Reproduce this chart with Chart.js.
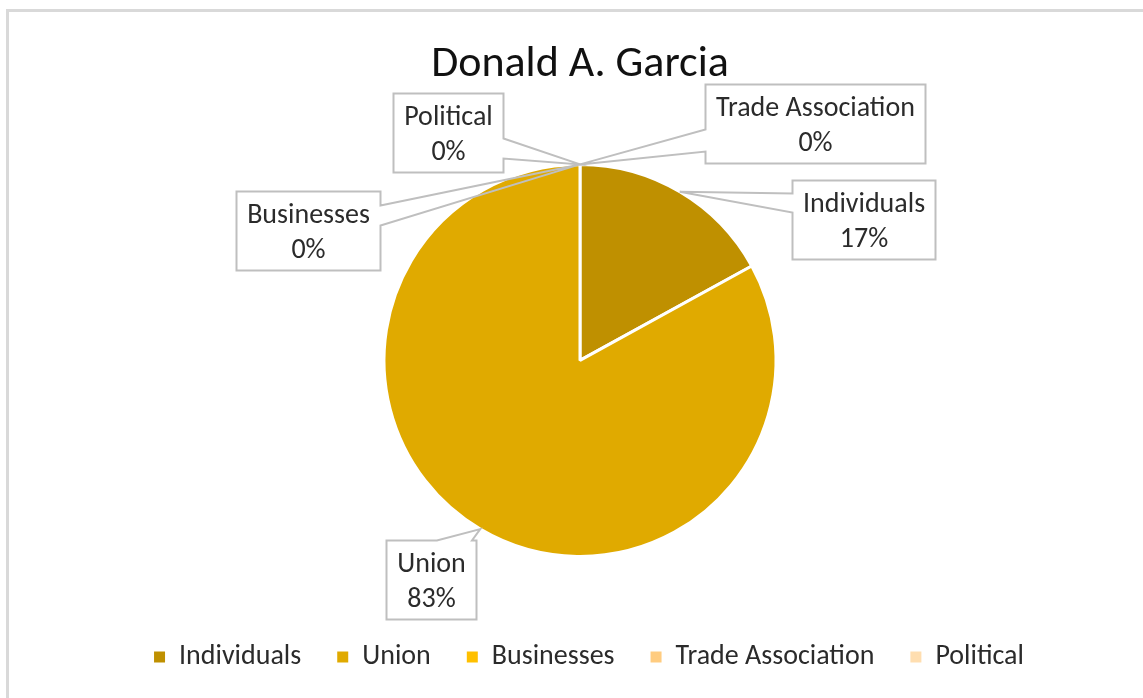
<!DOCTYPE html>
<html>
<head>
<meta charset="utf-8">
<script src="https://cdn.jsdelivr.net/npm/chart.js@4.4.1/dist/chart.umd.min.js"></script>
<style>
  html, body { margin: 0; padding: 0; background: #fff; }
  #chart { display: block; }
</style>
</head>
<body>
<canvas id="chart" width="1143" height="698"></canvas>
<script>
// chart data
const chartTitle = 'Donald A. Garcia';
const categories = ['Individuals', 'Union', 'Businesses', 'Trade Association', 'Political'];
const shares = [17, 83, 0, 0, 0];
const sliceColors = ['#BF9000', '#E0AA00', '#FFC000', '#FFCC80', '#FFDEB0'];

const FONT = 'Carlito, Lato, "Open Sans", sans-serif';

// where each callout box sits, relative to the pie centre (layout only)
const calloutLayout = [
    { dx: 284, dy: -141, side: 'left', at: [13, 32] },     // Individuals
    { dx: -149, dy: 219, side: 'top', at: [0.56, 0.95] },  // Union
    { dx: -272, dy: -130, side: 'right', at: [14, 34] },   // Businesses
    { dx: 235, dy: -237, side: 'left', at: [45, 67] },     // Trade Association
    { dx: -132, dy: -228, side: 'right', at: [45, 65] }    // Political
];

const total = shares.reduce((a, b) => a + b, 0);
const percentText = shares.map(v => Math.round(v / total * 100) + '%');

const framePlugin = {
    id: 'frame',
    afterLayout: function(chart) {
        // legend sits a little right of the pie centre in the original
        chart.legend.left += 9;
        chart.legend.right += 9;
    },
    beforeDraw: function(chart) {
        var ctx = chart.ctx;
        ctx.save();
        ctx.fillStyle = '#fff';
        ctx.fillRect(0, 0, chart.width, chart.height);
        ctx.strokeStyle = '#D9D9D9';
        ctx.lineWidth = 3;
        ctx.beginPath();
        ctx.moveTo(7.5, chart.height);
        ctx.lineTo(7.5, 10.5);
        ctx.lineTo(chart.width, 10.5);
        ctx.stroke();
        ctx.restore();
    }
};

const calloutPlugin = {
    id: 'callouts',
    afterDatasetsDraw: function(chart) {
        var ctx = chart.ctx;
        var arcs = chart.getDatasetMeta(0).data;
        ctx.save();
        ctx.font = '28px ' + FONT;
        ctx.textAlign = 'center';
        ctx.textBaseline = 'middle';

        arcs.forEach(function(arc, i) {
            var p = arc.getProps(['x', 'y', 'startAngle', 'endAngle', 'outerRadius'], true);
            var mid = (p.startAngle + p.endAngle) / 2;
            var ax = p.x + Math.cos(mid) * p.outerRadius;
            var ay = p.y + Math.sin(mid) * p.outerRadius;

            var lay = calloutLayout[i];
            var lines = [categories[i], percentText[i]];
            var w = Math.max(ctx.measureText(lines[0]).width, ctx.measureText(lines[1]).width) + 21;
            var h = 79;
            var cx = p.x + lay.dx, cy = p.y + lay.dy;
            var left = Math.round(cx - w / 2) + 0.5, top = Math.round(cy - h / 2) + 0.5;
            var right = left + Math.round(w), bottom = top + h;

            ctx.fillStyle = '#fff';
            ctx.fillRect(left, top, right - left, h);

            ctx.beginPath();
            ctx.moveTo(left, top);
            if (lay.side === 'top') {
                ctx.lineTo(left + lay.at[0] * (right - left), top);
                ctx.lineTo(ax, ay);
                ctx.lineTo(left + lay.at[1] * (right - left), top);
                ctx.lineTo(right, top);
                ctx.lineTo(right, bottom);
                ctx.lineTo(left, bottom);
            } else if (lay.side === 'right') {
                ctx.lineTo(right, top);
                ctx.lineTo(right, top + lay.at[0]);
                ctx.lineTo(ax, ay);
                ctx.lineTo(right, top + lay.at[1]);
                ctx.lineTo(right, bottom);
                ctx.lineTo(left, bottom);
            } else {
                ctx.lineTo(right, top);
                ctx.lineTo(right, bottom);
                ctx.lineTo(left, bottom);
                ctx.lineTo(left, top + lay.at[1]);
                ctx.lineTo(ax, ay);
                ctx.lineTo(left, top + lay.at[0]);
            }
            ctx.closePath();
            ctx.strokeStyle = '#BFBFBF';
            ctx.lineWidth = 2;
            ctx.stroke();

            ctx.fillStyle = '#2b2b2b';
            ctx.fillText(lines[0], (left + right) / 2, top + 24);
            ctx.fillText(lines[1], (left + right) / 2, top + 59);
        });
        ctx.restore();
    }
};

const baseLabels = Chart.overrides.pie.plugins.legend.labels.generateLabels;

new Chart(document.getElementById('chart'), {
    type: 'pie',
    data: {
        labels: categories,
        datasets: [{
            data: shares,
            backgroundColor: sliceColors,
            borderColor: '#fff',
            borderWidth: 3
        }]
    },
    options: {
        responsive: false,
        animation: false,
        radius: 196,
        layout: { padding: { left: 17, right: 0, top: 0, bottom: 17 } },
        plugins: {
            title: {
                display: true,
                text: chartTitle,
                color: '#111',
                font: { family: FONT, size: 44, weight: 'normal' },
                padding: { top: 39, bottom: 22 }
            },
            legend: {
                position: 'bottom',
                labels: {
                    boxWidth: 11,
                    boxHeight: 11,
                    padding: 36,
                    color: '#2b2b2b',
                    font: { family: FONT, size: 28 },
                    generateLabels: function(chart) {
                        return baseLabels(chart).map(function(item) {
                            item.lineWidth = 0;
                            return item;
                        });
                    }
                }
            },
            tooltip: { enabled: false }
        }
    },
    plugins: [framePlugin, calloutPlugin]
});
</script>
</body>
</html>
